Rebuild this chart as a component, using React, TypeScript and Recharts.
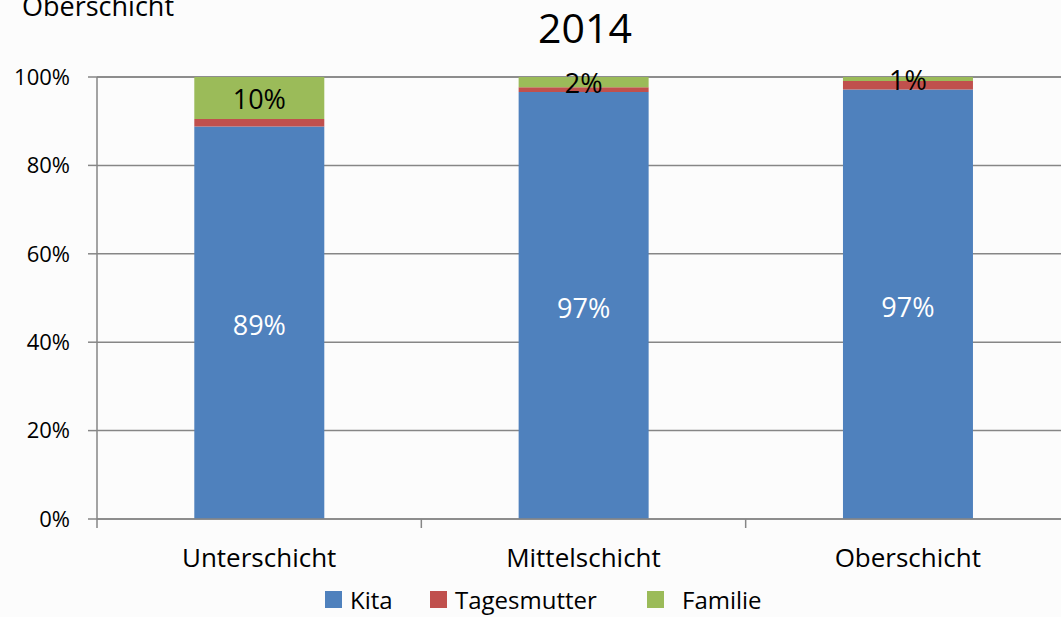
import React from 'react';
import { BarChart, Bar, XAxis, YAxis, CartesianGrid, Legend, LabelList } from 'recharts';

const categories = ['Unterschicht', 'Mittelschicht', 'Oberschicht'];
const kita = [88.8, 96.6, 97.2];
const tagesmutter = [1.7, 1.1, 1.9];
const familie = [9.5, 2.3, 0.9];
const yTicks = [0, 20, 40, 60, 80, 100];

const data = categories.map((name, i) => ({
  name,
  Kita: kita[i],
  Tagesmutter: tagesmutter[i],
  Familie: familie[i],
}));

const FONT = '"Open Sans", sans-serif';
const AXIS = '#868686';
const TICK_SIZE = 9;
const TICK_MARGIN = 21;

const legendItems = [
  { label: 'Kita', color: '#4F81BD', gap: 8, width: 105 },
  { label: 'Tagesmutter', color: '#C0504D', gap: 8, width: 217 },
  { label: 'Familie', color: '#9BBB59', gap: 18, width: 140 },
];

const LegendBox = () => (
  <div style={{ display: 'flex', alignItems: 'center', height: 36, fontFamily: FONT, fontSize: 24, color: '#000', paddingLeft: 325 }}>
    {legendItems.map((it) => (
      <div key={it.label} style={{ display: 'flex', alignItems: 'center', width: it.width }}>
        <span style={{ display: 'inline-block', width: 17, height: 17, background: it.color, marginRight: it.gap }} />
        <span>{it.label}</span>
      </div>
    ))}
  </div>
);

// category label plus tick marks on the band edges
const CategoryTick = (props: any) => {
  const { x, y, payload, index, visibleTicksCount } = props;
  const axisY = y - TICK_SIZE - TICK_MARGIN;
  const half = payload.offset || 0;
  const last = index === (visibleTicksCount ?? categories.length) - 1;
  return (
    <g>
      <line x1={x - half} x2={x - half} y1={axisY} y2={axisY + TICK_SIZE} stroke={AXIS} strokeWidth={1.5} />
      {last && <line x1={x + half} x2={x + half} y1={axisY} y2={axisY + TICK_SIZE} stroke={AXIS} strokeWidth={1.5} />}
      <text x={x} y={y} dy="0.71em" textAnchor="middle" fill="#000" fontSize={26} fontFamily={FONT}>
        {payload.value}
      </text>
    </g>
  );
};

const pct = (v: any) => `${Math.round(Number(v))}%`;

export default function App() {
  return (
    <div style={{ position: 'absolute', left: 0, top: 0, width: 1061, height: 617, overflow: 'hidden', background: '#fcfcfc' }}>
      <div style={{ position: 'absolute', left: 22, top: -13, fontFamily: FONT, fontSize: 27, color: '#000', whiteSpace: 'nowrap' }}>Oberschicht</div>
      <div style={{ position: 'absolute', left: 0, width: 1170, top: -1, textAlign: 'center', fontFamily: FONT, fontSize: 41, color: '#000' }}>2014</div>
      <BarChart
        width={1080}
        height={617}
        data={data}
        margin={{ top: 77, right: 10, bottom: 0, left: 0 }}
        barCategoryGap="30%"
        style={{ fontFamily: FONT }}
      >
        <CartesianGrid vertical={false} stroke={AXIS} strokeWidth={1.5} />
        <XAxis
          dataKey="name"
          tickLine={false}
          tickSize={TICK_SIZE}
          tickMargin={TICK_MARGIN}
          axisLine={{ stroke: AXIS, strokeWidth: 1.5 }}
          tick={<CategoryTick />}
          height={62}
        />
        <YAxis
          domain={[0, 100]}
          ticks={yTicks}
          tickFormatter={(v: number) => `${v}%`}
          width={97}
          tickSize={9}
          tickMargin={18}
          axisLine={{ stroke: AXIS, strokeWidth: 1.5 }}
          tickLine={{ stroke: AXIS, strokeWidth: 1.5 }}
          tick={{ fill: '#000', fontSize: 22 }}
        />
        <Legend verticalAlign="bottom" content={() => <LegendBox />} />
        <Bar dataKey="Kita" stackId="a" fill="#4F81BD" isAnimationActive={false}>
          <LabelList dataKey="Kita" position="center" formatter={pct} fill="#fff" fontSize={27} dy={3} />
        </Bar>
        <Bar dataKey="Tagesmutter" stackId="a" fill="#C0504D" isAnimationActive={false} />
        <Bar dataKey="Familie" stackId="a" fill="#9BBB59" isAnimationActive={false}>
          <LabelList dataKey="Familie" position="center" formatter={pct} fill="#000" fontSize={27} dy={1} />
        </Bar>
      </BarChart>
    </div>
  );
}
